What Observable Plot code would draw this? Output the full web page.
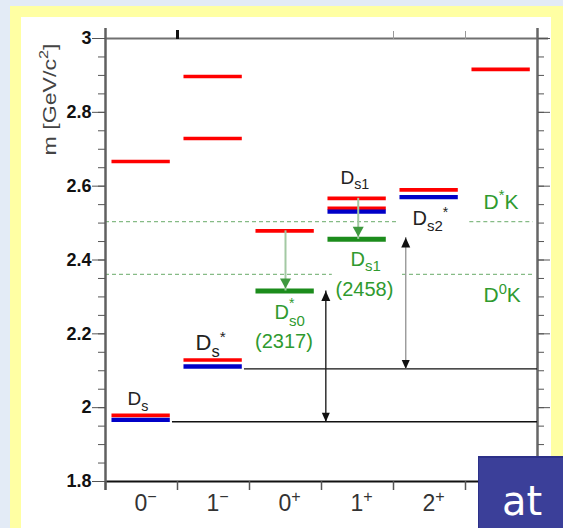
<!DOCTYPE html>
<html>
<head>
<meta charset="utf-8">
<script src="https://cdn.jsdelivr.net/npm/d3@7"></script>
<script src="https://cdn.jsdelivr.net/npm/@observablehq/plot@0.6"></script>
<style>
  body { margin: 0; }
  #page { position: relative; width: 563px; height: 528px; overflow: hidden; background: #e3ebf6; font-family: "Liberation Sans", Arial, sans-serif; }
  #yellow { position: absolute; left: 10px; top: 6px; right: 0; bottom: 0; background: #ffffa3; }
  #white { position: absolute; left: 21px; top: 17px; width: 530px; bottom: 0; background: #ffffff; }
  #chart { position: absolute; left: 0; top: 0; }
  #at { position: absolute; left: 478px; top: 456px; width: 85px; height: 72px; box-sizing: border-box;
        background: #3b3f99; border-top: 2px solid #2c3088; border-left: 1px solid #2c3088;
        color: #fff; font-family: "DejaVu Sans", sans-serif; font-size: 40px; line-height: 40px;
        padding-left: 23px; padding-top: 23px; }
</style>
</head>
<body>
<div id="page">
  <div id="yellow"></div>
  <div id="white"></div>
  <div id="chart"></div>
  <div id="at">at</div>
</div>
<script>
// ---- data ----
const jpLabels = ["0^{−}", "1^{−}", "0^{+}", "1^{+}", "2^{+}"];
const yTicks = [1.8, 2, 2.2, 2.4, 2.6, 2.8, 3];
const yTickLabels = ["1.8", "2", "2.2", "2.4", "2.6", "2.8", "3"];

// mass levels (GeV): column index (J^P), mass, kind (model prediction / observed / new state)
const levelCol  = [0, 0, 0, 1, 1, 1, 1, 2, 2, 3, 3, 3, 3, 4, 4, 5];
const levelMass = [2.667, 1.979, 1.967, 2.897, 2.729, 2.129, 2.1115, 2.479, 2.316, 2.567, 2.540, 2.531, 2.456, 2.590, 2.5705, 2.9165];
const levelKind = ["model", "model", "observed", "model", "model", "model", "observed", "model", "new",
                   "model", "model", "observed", "new", "model", "observed", "model"];

// ground-state reference lines (Ds, Ds*)
const groundCol  = [0, 1];
const groundMass = [1.962, 2.105];

// thresholds
const thresholdName = ["D^{*}K", "D^{0}K"];
const thresholdMass = [2.504, 2.361];
const thresholdSpans = [[[0, 4.06], [5.06, 5.94]], [[0, 3.15], [4.125, 5.94]]];
const thresholdLabelCol = [5.25, 5.25];
const thresholdLabelMass = [2.5395, 2.2849];

// arrows: x in column units, from/to masses
const arrowX    = [2.5, 3.51, 3.06, 4.17];
const arrowFrom = [2.479, 2.567, 1.962, 2.105];
const arrowTo   = [2.316, 2.456, 2.316, 2.461];
const arrowKind = ["decay", "decay", "gap", "gapGray"];

// state name labels
const nameText = ["D_{s}", "D_{s}^{*}", "D_{s1}", "D_{s2}^{*}"];
const nameCol  = [0.306, 1.25, 3.264, 4.264];
const nameMass = [2.006, 2.155, 2.607, 2.4935];

const newText = ["D^{*}_{s0}", "D_{s1}"];
const newCol  = [2.347, 3.403];
const newMass = [2.2415, 2.3851];
const newMassText = ["(2317)", "(2458)"];
const newMassCol  = [2.479, 3.597];
const newMassY    = [2.162, 2.3038];

// ---- build ----
const levels = levelCol.map((c, i) => ({col: c, m: levelMass[i], kind: levelKind[i]}));
const ground = groundCol.map((c, i) => ({col: c, m: groundMass[i]}));
const dashSegs = thresholdMass.flatMap((m, i) => thresholdSpans[i].map(([a, b]) => ({m, a, b})));
const thrLabels = thresholdName.map((t, i) => ({t, col: thresholdLabelCol[i], m: thresholdLabelMass[i]}));
const arrows = arrowX.map((x, i) => ({x, from: arrowFrom[i], to: arrowTo[i], kind: arrowKind[i]}));
const names = nameText.map((t, i) => ({t, col: nameCol[i], m: nameMass[i]}));
const newNames = newText.map((t, i) => ({t, col: newCol[i], m: newMass[i]}));
const newMasses = newMassText.map((t, i) => ({t, col: newMassCol[i], m: newMassY[i]}));
const minorTicks = d3.range(0, 25).map(i => +(1.8 + i * 0.05).toFixed(2));
const centers = jpLabels.map((_, i) => i + 0.5);

const RED = "#ff0000", BLUE = "#0000c8", GREEN = "#1c8c1c", LGREEN = "#2f9a2f";
const headDown = (w, h) => ({draw(ctx) { ctx.moveTo(0, 0); ctx.lineTo(-w / 2, -h); ctx.lineTo(w / 2, -h); ctx.closePath(); }});
const headUp = (w, h) => ({draw(ctx) { ctx.moveTo(0, 0); ctx.lineTo(-w / 2, h); ctx.lineTo(w / 2, h); ctx.closePath(); }});
const nameSize = {"D_{s}": 19, "D_{s}^{*}": 22, "D_{s1}": 19, "D_{s2}^{*}": 20};

const plot = Plot.plot({
  width: 563, height: 528,
  marginLeft: 105, marginRight: 26, marginTop: 38, marginBottom: 47,
  x: {domain: [0, 6], axis: null},
  y: {domain: [1.8, 3], axis: null},
  style: {fontFamily: "'Liberation Sans', Arial, sans-serif", background: "transparent", overflow: "visible"},
  marks: [
    // thresholds (dashed)
    Plot.ruleY(dashSegs, {y: "m", x1: "a", x2: "b", stroke: "#86bb86", strokeWidth: 1.2, strokeDasharray: "4,3"}),
    // frame
    Plot.ruleY([3], {stroke: "#707070", strokeWidth: 2, insetRight: -11}),
    Plot.ruleY([1.8], {stroke: "#111", strokeWidth: 2}),
    Plot.ruleX([0], {stroke: "#606060", strokeWidth: 2.5, insetTop: -10, insetBottom: -9}),
    Plot.ruleX([6], {stroke: "#666", strokeWidth: 2.5, insetTop: -10, insetBottom: -9}),
    // axes
    Plot.axisY({ticks: minorTicks, tickSize: 7, tickFormat: () => "", color: "#555", label: null}),
    Plot.axisY({ticks: yTicks, tickSize: 13, tickPadding: 1, tickFormat: d => yTickLabels[yTicks.indexOf(d)],
                fontSize: 18, fontWeight: "bold", color: "#111", stroke: "#555", label: null}),
    Plot.axisY({anchor: "right", ticks: minorTicks, tickSize: 6, tickFormat: () => "", color: "#555", label: null}),
    Plot.axisY({anchor: "right", ticks: yTicks, tickSize: 12, tickFormat: () => "", color: "#555", label: null}),
    Plot.axisX({ticks: d3.range(0, 7), tickSize: 9, tickFormat: () => "", color: "#555", strokeWidth: 1.5, label: null}),
    Plot.axisX({ticks: centers, tickSize: 0, tickPadding: 13, tickFormat: d => jpLabels[Math.floor(d)],
                fontSize: 23, color: "#333", dx: 4, label: null}),
    Plot.axisX({anchor: "top", ticks: [1], tickSize: 9, strokeWidth: 3, color: "#111", tickFormat: () => "", label: null}),
    Plot.axisX({anchor: "top", ticks: [4, 5], tickSize: 8, color: "#999", tickFormat: () => "", label: null}),
    // ground state reference lines
    Plot.ruleY(ground, {y: "m", x1: d => d.col + 0.93, x2: 6, stroke: "#111", strokeWidth: 1.4}),
    // levels
    Plot.ruleY(levels.filter(d => d.kind === "model"), {y: "m", x1: d => d.col + 0.09, x2: d => d.col + 0.9, stroke: RED, strokeWidth: 3.6}),
    Plot.ruleY(levels.filter(d => d.kind === "observed"), {y: "m", x1: d => d.col + 0.09, x2: d => d.col + 0.9, stroke: BLUE, strokeWidth: 4.3}),
    Plot.ruleY(levels.filter(d => d.kind === "new"), {y: "m", x1: d => d.col + 0.09, x2: d => d.col + 0.9, stroke: GREEN, strokeWidth: 5}),
    // arrows
    Plot.ruleX(arrows.filter(d => d.kind === "decay"), {x: "x", y1: "from", y2: "to", stroke: "#a3c9a3", strokeWidth: 2}),
    Plot.dot(arrows.filter(d => d.kind === "decay"), {x: "x", y: "to", dy: -2.5, r: 1, symbol: headDown(11, 10), fill: "#3f993f"}),
    Plot.ruleX(arrows.filter(d => d.kind === "gap"), {x: "x", y1: "from", y2: "to", stroke: "#222", strokeWidth: 1.4}),
    Plot.ruleX(arrows.filter(d => d.kind === "gapGray"), {x: "x", y1: "from", y2: "to", stroke: "#999", strokeWidth: 1.4}),
    Plot.dot(arrows.filter(d => d.kind !== "decay"), {x: "x", y: "to", r: 1, symbol: headUp(9, 10), fill: "#111"}),
    Plot.dot(arrows.filter(d => d.kind !== "decay"), {x: "x", y: "from", r: 1, symbol: headDown(8, 9), fill: "#111"}),
    // labels
    Plot.text(names, {x: "col", y: "m", text: "t", textAnchor: "start", lineAnchor: "bottom", fontSize: d => nameSize[d.t], fill: "#222"}),
    Plot.text(newNames, {x: "col", y: "m", text: "t", textAnchor: "start", lineAnchor: "bottom", fontSize: 20, fill: LGREEN}),
    Plot.text(newMasses, {x: "col", y: "m", text: "t", textAnchor: "middle", lineAnchor: "bottom", fontSize: 20, fill: LGREEN}),
    Plot.text(thrLabels, {x: "col", y: "m", text: "t", textAnchor: "start", lineAnchor: "bottom", fontSize: 21, fill: LGREEN}),
    Plot.text(["m [GeV/c^{2}]"], {frameAnchor: "top-left", text: d => d, dx: -56, dy: 61, rotate: -90, textAnchor: "middle", lineAnchor: "middle", fontSize: 19, fill: "#444"})
  ]
});

document.getElementById("chart").appendChild(plot);

// rich text: _{sub} and ^{sup}
const svgNS = "http://www.w3.org/2000/svg";
plot.querySelectorAll("text").forEach(t => {
  const s = t.textContent;
  if (!/[_^]\{/.test(s)) return;
  const fs = parseFloat(getComputedStyle(t).fontSize) || 12;
  while (t.firstChild) t.removeChild(t.firstChild);
  const re = /([_^])\{([^}]*)\}|([^_^]+)/g;
  let m, cur = 0, prevSupW = 0;
  while ((m = re.exec(s))) {
    const span = document.createElementNS(svgNS, "tspan");
    let target = 0, size = null, dx = 0;
    const stacked = m[1] === "_" && prevSupW > 0;
    if (m[1] === "_") { target = (stacked ? 0.36 : 0.28) * fs; size = 0.75 * fs; dx = -prevSupW; }
    else if (m[1] === "^") { target = (/_\{/.test(s.slice(m.index)) && s.indexOf("^") < s.indexOf("_") ? -0.52 : -0.4) * fs; size = 0.7 * fs; }
    span.textContent = m[1] ? m[2] : m[3];
    if (size) span.setAttribute("font-size", size);
    if (target - cur) span.setAttribute("dy", target - cur);
    if (dx) span.setAttribute("dx", dx);
    cur = target;
    t.appendChild(span);
    prevSupW = m[1] === "^" ? span.getComputedTextLength() : 0;
  }
  if (s.startsWith("m [")) {
    t.setAttribute("textLength", 112);
    t.setAttribute("lengthAdjust", "spacingAndGlyphs");
  }
});
</script>
</body>
</html>
